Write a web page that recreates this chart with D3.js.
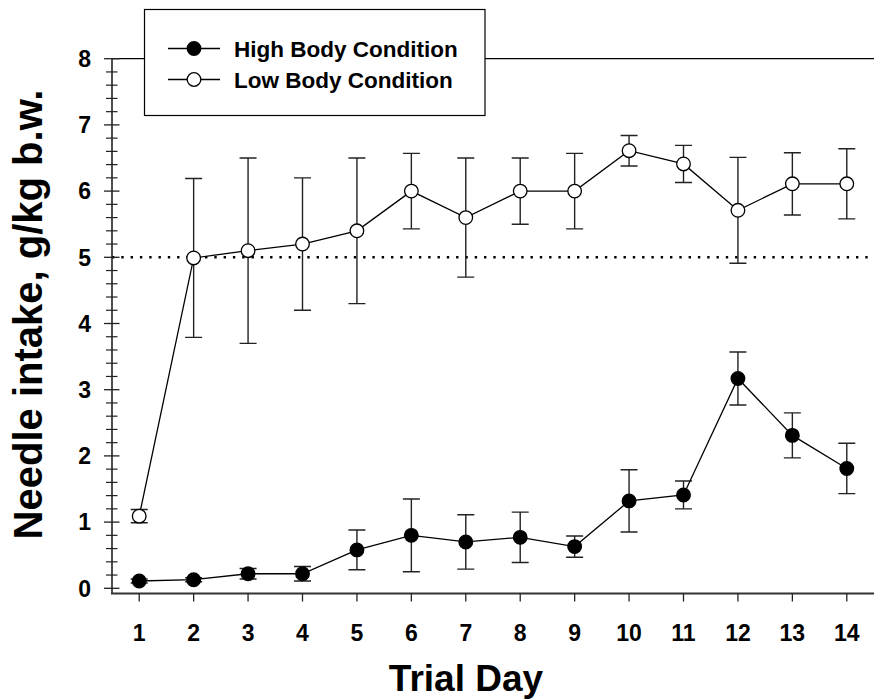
<!DOCTYPE html>
<html>
<head>
<meta charset="utf-8">
<script src="https://cdn.jsdelivr.net/npm/d3@7"></script>
<style>
  body { margin: 0; background: #fff; }
  svg text { font-family: "Liberation Sans", Arial, sans-serif; font-weight: bold; fill: #000; }
</style>
</head>
<body>
<div id="chart"></div>
<script>
// values
const days = [1, 2, 3, 4, 5, 6, 7, 8, 9, 10, 11, 12, 13, 14];
const highMean = [0.11, 0.13, 0.22, 0.22, 0.58, 0.80, 0.70, 0.77, 0.63, 1.32, 1.41, 3.17, 2.31, 1.81];
const highErr  = [0.03, 0.03, 0.08, 0.11, 0.30, 0.55, 0.41, 0.38, 0.16, 0.47, 0.21, 0.40, 0.34, 0.38];
const lowMean  = [1.09, 4.99, 5.10, 5.20, 5.40, 6.00, 5.60, 6.00, 6.00, 6.61, 6.41, 5.71, 6.11, 6.11];
const lowErr   = [0.10, 1.20, 1.40, 1.00, 1.10, 0.57, 0.90, 0.50, 0.57, 0.23, 0.28, 0.80, 0.47, 0.53];
const yTicks = [0, 1, 2, 3, 4, 5, 6, 7, 8];
const refLine = 5;
const seriesNames = ["High Body Condition", "Low Body Condition"];

const width = 874, height = 700;

const svg = d3.select("#chart").append("svg")
    .attr("width", width)
    .attr("height", height);

const x = d3.scaleLinear().domain([0.5, 14.5]).range([112, 874]);
const y = d3.scaleLinear().domain([0, 8]).range([588.3, 58.7]);
const yBottom = 593.5;

// dotted reference line
svg.append("line")
    .attr("x1", 112).attr("x2", width)
    .attr("y1", y(refLine)).attr("y2", y(refLine))
    .attr("stroke", "#000")
    .attr("stroke-width", 2.4)
    .attr("stroke-dasharray", "2.4 6.9");

// top frame line
svg.append("line")
    .attr("x1", 112).attr("x2", width)
    .attr("y1", y(8)).attr("y2", y(8))
    .attr("stroke", "#000").attr("stroke-width", 1.3);

// y axis with major + minor ticks
const yAxisG = svg.append("g");
yAxisG.append("line")
    .attr("x1", 112).attr("x2", 112)
    .attr("y1", y(8)).attr("y2", yBottom)
    .attr("stroke", "#222").attr("stroke-width", 1.6);

const minor = d3.range(0, 8.001, 0.2).filter(v => Math.abs(v - Math.round(v)) > 0.01);
yAxisG.selectAll(".minor").data(minor).join("line")
    .attr("x1", 106).attr("x2", 117.5)
    .attr("y1", d => y(d)).attr("y2", d => y(d))
    .attr("stroke", "#222").attr("stroke-width", 1.2);
yAxisG.selectAll(".major").data(yTicks).join("line")
    .attr("x1", 104).attr("x2", 119.5)
    .attr("y1", d => y(d)).attr("y2", d => y(d))
    .attr("stroke", "#222").attr("stroke-width", 1.3);
yAxisG.selectAll("text").data(yTicks).join("text")
    .attr("x", 91)
    .attr("y", d => y(d))
    .attr("dy", "0.36em")
    .attr("text-anchor", "end")
    .style("font-size", "23px")
    .text(d => d);

// x axis
const xAxisG = svg.append("g");
xAxisG.append("line")
    .attr("x1", 111).attr("x2", width)
    .attr("y1", yBottom).attr("y2", yBottom)
    .attr("stroke", "#333").attr("stroke-width", 2);
xAxisG.selectAll(".tick").data(days).join("line")
    .attr("x1", d => x(d)).attr("x2", d => x(d))
    .attr("y1", yBottom).attr("y2", yBottom + 8)
    .attr("stroke", "#222").attr("stroke-width", 1.3);
xAxisG.selectAll("text").data(days).join("text")
    .attr("x", d => x(d))
    .attr("y", 641)
    .attr("text-anchor", "middle")
    .style("font-size", "23px")
    .text(d => d);

// axis titles
svg.append("text")
    .attr("transform", `translate(41.5,314.5) rotate(-90)`)
    .attr("text-anchor", "middle")
    .style("font-size", "40px")
    .text("Needle intake, g/kg b.w.");

svg.append("text")
    .attr("x", 466)
    .attr("y", 691)
    .attr("text-anchor", "middle")
    .style("font-size", "37px")
    .text("Trial Day");

// series
const series = [
  { name: seriesNames[1], mean: lowMean, err: lowErr, fill: "#fff" },
  { name: seriesNames[0], mean: highMean, err: highErr, fill: "#000" }
];

const line = d3.line().x((d, i) => x(days[i])).y(d => y(d));
const capW = 8.5;

series.forEach(s => {
  const g = svg.append("g");
  const pts = days.map((d, i) => ({ day: d, m: s.mean[i], e: s.err[i] }));

  g.selectAll(".eb").data(pts).join("path")
      .attr("d", d => {
        const cx = x(d.day), t = y(d.m + d.e), b = y(d.m - d.e);
        return `M${cx},${t}V${b}M${cx - capW},${t}H${cx + capW}M${cx - capW},${b}H${cx + capW}`;
      })
      .attr("fill", "none")
      .attr("stroke", "#222")
      .attr("stroke-width", 1.4);

  g.append("path")
      .datum(s.mean)
      .attr("d", line)
      .attr("fill", "none")
      .attr("stroke", "#000")
      .attr("stroke-width", 1.3);

  g.selectAll("circle").data(pts).join("circle")
      .attr("cx", d => x(d.day))
      .attr("cy", d => y(d.m))
      .attr("r", 6.8)
      .attr("fill", s.fill)
      .attr("stroke", "#000")
      .attr("stroke-width", 1.3);
});

// legend
const legend = svg.append("g");
legend.append("rect")
    .attr("x", 144.5).attr("y", 9.5)
    .attr("width", 340.5).attr("height", 106)
    .attr("fill", "#fff")
    .attr("stroke", "#000").attr("stroke-width", 1.2);

const legendRows = [
  { name: seriesNames[0], fill: "#000", cy: 48.5 },
  { name: seriesNames[1], fill: "#fff", cy: 79.5 }
];
legendRows.forEach(r => {
  legend.append("line")
      .attr("x1", 168).attr("x2", 220)
      .attr("y1", r.cy).attr("y2", r.cy)
      .attr("stroke", "#000").attr("stroke-width", 1.3);
  legend.append("circle")
      .attr("cx", 194).attr("cy", r.cy).attr("r", 6.8)
      .attr("fill", r.fill)
      .attr("stroke", "#000").attr("stroke-width", 1.3);
  legend.append("text")
      .attr("x", 234).attr("y", r.cy)
      .attr("dy", "0.36em")
      .style("font-size", "22.5px")
      .text(r.name);
});
</script>
</body>
</html>
